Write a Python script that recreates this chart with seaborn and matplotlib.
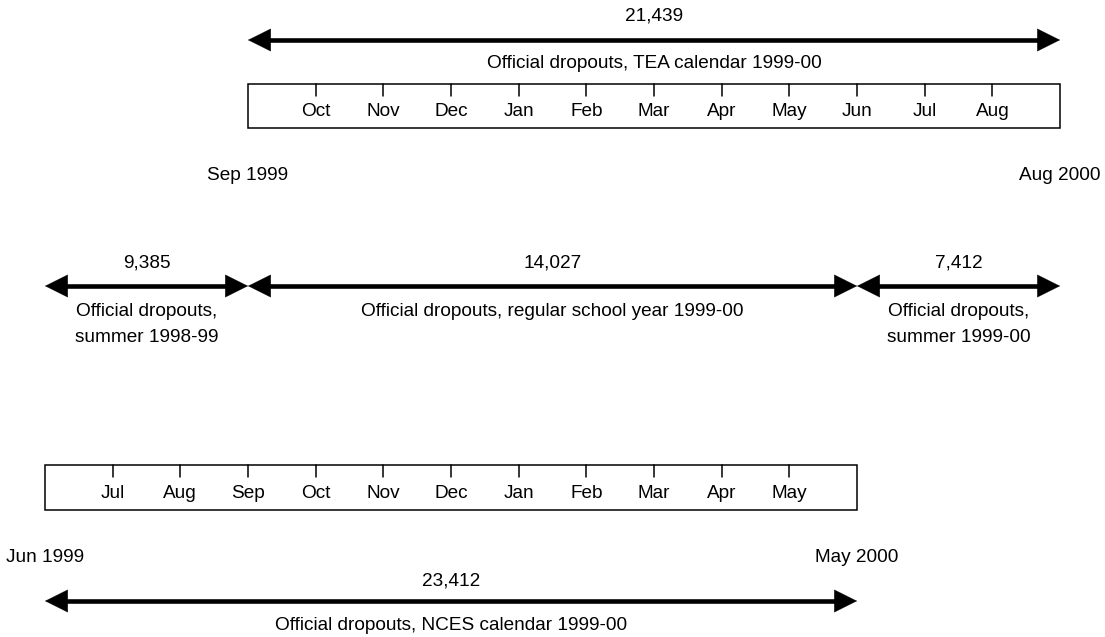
import matplotlib
matplotlib.use("Agg")
import matplotlib.pyplot as plt
from matplotlib.patches import Rectangle
import seaborn as sns

# Month index: 0 = Jun 1999 ... 15 = Sep 2000 (start of month)
tea_months = ['Oct', 'Nov', 'Dec', 'Jan', 'Feb', 'Mar', 'Apr', 'May', 'Jun', 'Jul', 'Aug']
tea_start, tea_end = 3, 15
tea_total = 21439
tea_label = 'Official dropouts, TEA calendar 1999-00'
tea_edge_labels = ['Sep 1999', 'Aug 2000']

nces_months = ['Jul', 'Aug', 'Sep', 'Oct', 'Nov', 'Dec', 'Jan', 'Feb', 'Mar', 'Apr', 'May']
nces_start, nces_end = 0, 12
nces_total = 23412
nces_label = 'Official dropouts, NCES calendar 1999-00'
nces_edge_labels = ['Jun 1999', 'May 2000']

seg_starts = [0, 3, 12]
seg_ends = [3, 12, 15]
seg_values = [9385, 14027, 7412]
seg_labels = ['Official dropouts,\nsummer 1998-99',
              'Official dropouts, regular school year 1999-00',
              'Official dropouts,\nsummer 1999-00']

sns.set_theme(style="white")
plt.rcParams['font.family'] = ['Liberation Sans', 'DejaVu Sans']
plt.rcParams['text.color'] = 'black'

fig = plt.figure(figsize=(11.05, 6.37), dpi=100)
ax = fig.add_axes([0, 0, 1, 1])
px = 67.67  # pixels per month
ax.set_xlim(-45 / px, (1105 - 45) / px)
ax.set_ylim(637, 0)
ax.axis('off')

fs = 13.7
head = 20 / px  # shaft stops a bit inside the arrow heads


def label(x, y, s):
    ax.text(x, y, s, ha='center', va='center', fontsize=fs)


def arrow(x0, x1, y):
    ax.plot([x0 + head, x1 - head], [y, y], color='black', lw=3.3,
            solid_capstyle='butt')
    ax.annotate('', xy=(x1, y), xytext=(x0, y),
                arrowprops=dict(arrowstyle='<|-|>,head_length=0.8,head_width=0.4',
                                color='black', lw=0.3, mutation_scale=20,
                                shrinkA=0, shrinkB=0))


def month_box(start, end, names, ytop, ybot):
    ax.add_patch(Rectangle((start, ytop), end - start, ybot - ytop,
                           fill=False, lw=1.1, edgecolor='black'))
    for i, name in enumerate(names):
        m = start + 1 + i
        ax.plot([m, m], [ytop, ytop + 12], color='black', lw=1.1)
        label(m, ytop + 28, name)


# TEA calendar
arrow(tea_start, tea_end, 40)
label((tea_start + tea_end) / 2, 16, f'{tea_total:,}')
label((tea_start + tea_end) / 2, 63, tea_label)
month_box(tea_start, tea_end, tea_months, 84, 128)
label(tea_start, 175, tea_edge_labels[0])
label(tea_end, 175, tea_edge_labels[1])

# Segments
for s, e, v, lab in zip(seg_starts, seg_ends, seg_values, seg_labels):
    arrow(s, e, 286)
    label((s + e) / 2, 263, f'{v:,}')
    for i, line in enumerate(lab.split('\n')):
        label((s + e) / 2, 311 + 26 * i, line)

# NCES calendar
month_box(nces_start, nces_end, nces_months, 465, 510)
label(nces_start, 558, nces_edge_labels[0])
label(nces_end, 558, nces_edge_labels[1])
label((nces_start + nces_end) / 2, 581, f'{nces_total:,}')
arrow(nces_start, nces_end, 601)
label((nces_start + nces_end) / 2, 625, nces_label)

fig.savefig('out.png', dpi=100)
